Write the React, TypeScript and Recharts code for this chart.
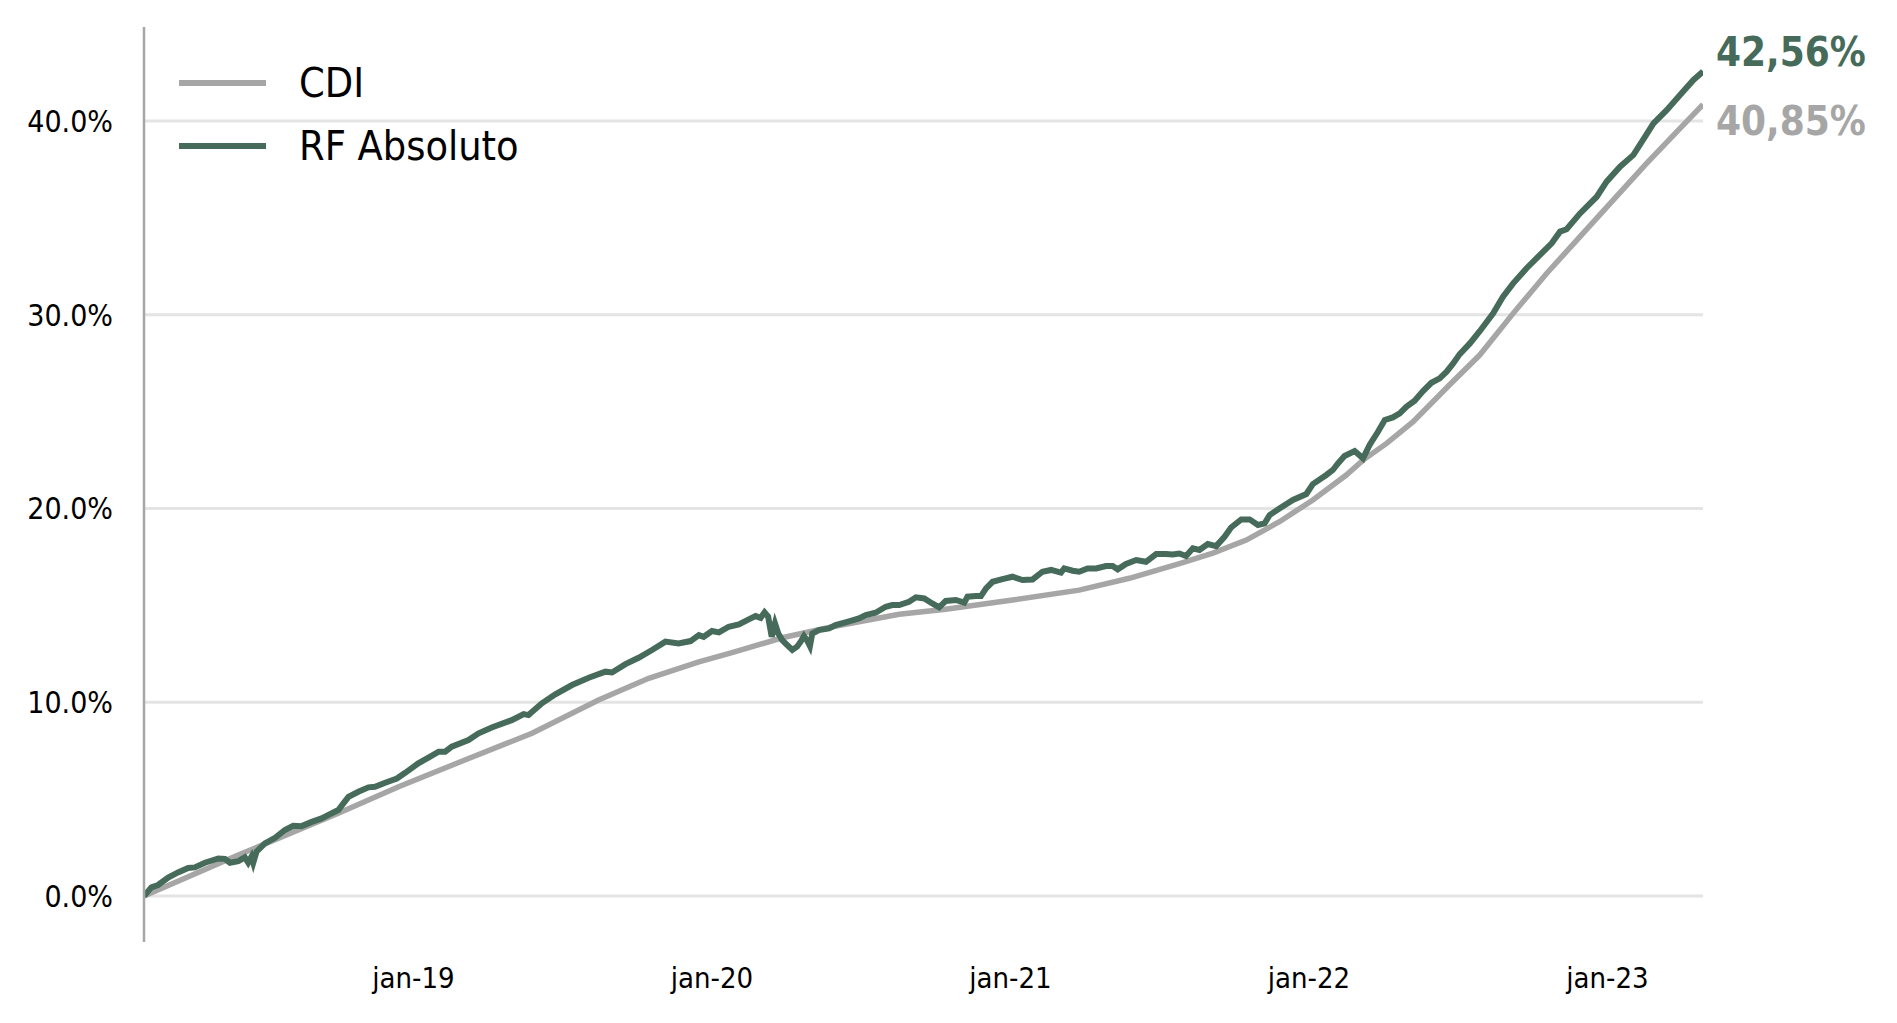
import React from "react";
import { LineChart, Line, XAxis, YAxis, CartesianGrid } from "recharts";

// Dates as fractional years
const rfDates = [
  2018.097, 2018.122, 2018.144, 2018.178, 2018.211, 2018.245, 2018.267, 2018.301, 2018.346, 2018.368,
  2018.385, 2018.413, 2018.435, 2018.446, 2018.457, 2018.463, 2018.474, 2018.502, 2018.536, 2018.569,
  2018.597, 2018.625, 2018.659, 2018.692, 2018.720, 2018.748, 2018.765, 2018.782, 2018.815, 2018.849,
  2018.871, 2018.905, 2018.944, 2018.972, 2019.016, 2019.050, 2019.084, 2019.106, 2019.128, 2019.184,
  2019.218, 2019.262, 2019.329, 2019.369, 2019.385, 2019.430, 2019.475, 2019.531, 2019.587, 2019.643,
  2019.665, 2019.710, 2019.754, 2019.799, 2019.844, 2019.888, 2019.928, 2019.956, 2019.972, 2020.000,
  2020.023, 2020.056, 2020.090, 2020.123, 2020.146, 2020.163, 2020.176, 2020.188, 2020.200, 2020.211,
  2020.222, 2020.235, 2020.252, 2020.269, 2020.285, 2020.297, 2020.308, 2020.319, 2020.328, 2020.336,
  2020.358, 2020.392, 2020.414, 2020.459, 2020.492, 2020.515, 2020.548, 2020.582, 2020.604, 2020.627,
  2020.660, 2020.683, 2020.711, 2020.738, 2020.761, 2020.783, 2020.817, 2020.845, 2020.856, 2020.884,
  2020.901, 2020.918, 2020.940, 2020.973, 2021.007, 2021.040, 2021.074, 2021.107, 2021.136, 2021.169,
  2021.180, 2021.208, 2021.230, 2021.258, 2021.287, 2021.320, 2021.342, 2021.359, 2021.387, 2021.421,
  2021.454, 2021.488, 2021.521, 2021.543, 2021.566, 2021.588, 2021.611, 2021.633, 2021.661, 2021.689,
  2021.717, 2021.739, 2021.773, 2021.801, 2021.829, 2021.851, 2021.868, 2021.901, 2021.946, 2021.991,
  2022.013, 2022.058, 2022.080, 2022.097, 2022.119, 2022.153, 2022.181, 2022.203, 2022.231, 2022.254,
  2022.281, 2022.304, 2022.326, 2022.354, 2022.382, 2022.410, 2022.438, 2022.461, 2022.483, 2022.505,
  2022.539, 2022.572, 2022.617, 2022.650, 2022.684, 2022.729, 2022.768, 2022.813, 2022.841, 2022.863,
  2022.908, 2022.964, 2022.997, 2023.042, 2023.087, 2023.126, 2023.154, 2023.199, 2023.243, 2023.288,
  2023.320,
];

const rfValues = [
  0.0, 0.45, 0.57, 0.96, 1.22, 1.45, 1.48, 1.72, 1.94, 1.92,
  1.72, 1.8, 2.0, 1.73, 2.03, 1.72, 2.29, 2.72, 3.01, 3.41,
  3.63, 3.61, 3.83, 4.01, 4.23, 4.44, 4.78, 5.12, 5.38, 5.61,
  5.64, 5.85, 6.07, 6.36, 6.85, 7.15, 7.45, 7.45, 7.71, 8.05,
  8.4, 8.7, 9.08, 9.39, 9.34, 9.95, 10.41, 10.89, 11.27, 11.58,
  11.54, 11.97, 12.3, 12.7, 13.13, 13.04, 13.16, 13.47, 13.38, 13.68,
  13.61, 13.9, 14.02, 14.28, 14.45, 14.36, 14.64, 14.42, 13.38, 14.07,
  13.55, 13.21, 12.95, 12.7, 12.87, 13.13, 13.42, 13.18, 12.9, 13.55,
  13.73, 13.81, 13.99, 14.18, 14.33, 14.5, 14.62, 14.93, 15.02, 15.02,
  15.19, 15.42, 15.36, 15.1, 14.9, 15.23, 15.28, 15.14, 15.45, 15.48,
  15.48, 15.88, 16.22, 16.36, 16.48, 16.31, 16.34, 16.74, 16.83, 16.69,
  16.91, 16.79, 16.74, 16.91, 16.91, 17.03, 17.03, 16.86, 17.14, 17.34,
  17.25, 17.65, 17.65, 17.63, 17.68, 17.55, 17.95, 17.86, 18.17, 18.06,
  18.54, 19.02, 19.44, 19.44, 19.15, 19.23, 19.66, 20.0, 20.44, 20.75,
  21.26, 21.73, 21.99, 22.33, 22.71, 22.97, 22.59, 23.28, 23.96, 24.57,
  24.7, 24.91, 25.25, 25.56, 26.06, 26.49, 26.72, 27.06, 27.49, 27.97,
  28.52, 29.15, 30.07, 30.93, 31.62, 32.4, 33.0, 33.69, 34.29, 34.41,
  35.23, 36.09, 36.87, 37.64, 38.25, 39.19, 39.88, 40.57, 41.34, 42.12,
  42.56,
];

const cdiDates = [
  2018.097, 2018.413, 2018.748, 2018.950, 2019.172, 2019.397, 2019.620, 2019.788, 2019.956, 2020.067,
  2020.235, 2020.403, 2020.627, 2020.783, 2021.007, 2021.230, 2021.398, 2021.566, 2021.678, 2021.790,
  2021.901, 2022.013, 2022.125, 2022.181, 2022.260, 2022.349, 2022.472, 2022.572, 2022.684, 2022.796,
  2022.908, 2023.019, 2023.131, 2023.243, 2023.320,
];

const cdiValues = [
  0.0, 2.12, 4.27, 5.64, 7.02, 8.4, 10.12, 11.24, 12.09, 12.56,
  13.33, 13.9, 14.54, 14.8, 15.28, 15.79, 16.4, 17.16, 17.7, 18.37,
  19.32, 20.44, 21.73, 22.5, 23.36, 24.48, 26.4, 27.92, 30.07, 32.13,
  34.03, 35.92, 37.81, 39.62, 40.85,
];

const xTicks = [2019, 2020, 2021, 2022, 2023];
const yTicks = [0, 10, 20, 30, 40];

const series = [
  { key: "cdi", name: "CDI", color: "#a6a6a6", width: 5.5, labelDy: 16 },
  { key: "rf", name: "RF Absoluto", color: "#476b5b", width: 6, labelDy: -19 },
];

// build merged table
const rowMap = new Map<number, any>();
rfDates.forEach((d, i) => {
  const r = rowMap.get(d) || { x: d };
  r.rf = rfValues[i];
  rowMap.set(d, r);
});
cdiDates.forEach((d, i) => {
  const r = rowMap.get(d) || { x: d };
  r.cdi = cdiValues[i];
  rowMap.set(d, r);
});
const table = Array.from(rowMap.values()).sort((a, b) => a.x - b.x);
const lastIndex = table.length - 1;

const FONT = "'DejaVu Sans', sans-serif";
const COND = "'DejaVu Sans Condensed', 'DejaVu Sans', sans-serif";

const XTick = (props: any) => {
  const { x, y, payload } = props;
  return (
    <text x={x} y={y} dy="0.71em" textAnchor="middle" fill="#000" fontFamily={COND} fontSize={29}>
      {"jan-" + String(payload.value).slice(2)}
    </text>
  );
};

const YTick = (props: any) => {
  const { x, y, payload } = props;
  return (
    <text x={x} y={y} dy="0.36em" textAnchor="end" fill="#000" fontFamily={COND} fontSize={30}>
      {Number(payload.value).toFixed(1) + "%"}
    </text>
  );
};

const makeEndLabel = (color: string, dy: number) => (props: any) => {
  const { x, y, index, value } = props;
  if (index !== lastIndex || value == null) return null;
  return (
    <text
      x={x + 13}
      y={y + dy}
      fill={color}
      fontFamily={FONT}
      fontWeight="bold"
      fontSize={40}
      dominantBaseline="central"
      textAnchor="start"
      style={{ fontStretch: "condensed" }}
    >
      {Number(value).toFixed(2).replace(".", ",") + "%"}
    </text>
  );
};

export default function App() {
  return (
    <div style={{ position: "relative", width: 1880, height: 1000, background: "#fff" }}>
      <LineChart
        width={1880}
        height={1000}
        data={table}
        margin={{ top: 19, right: 185, bottom: 6, left: 0 }}
      >
        <CartesianGrid
          vertical={false}
          horizontalValues={yTicks}
          stroke="#e4e4e4"
          strokeWidth={3}
        />
        <XAxis
          dataKey="x"
          type="number"
          domain={[2018.097, 2023.32]}
          ticks={xTicks}
          axisLine={false}
          tickLine={false}
          tickMargin={19}
          height={60}
          tick={<XTick />}
          allowDataOverflow
        />
        <YAxis
          type="number"
          domain={[-2.37, 44.85]}
          ticks={yTicks}
          axisLine={{ stroke: "#a6a6a6", strokeWidth: 2.5 }}
          tickLine={false}
          tickMargin={25}
          width={136}
          tick={<YTick />}
          allowDataOverflow
        />
        {series.map((s) => (
          <Line
            key={s.key}
            type="linear"
            dataKey={s.key}
            name={s.name}
            stroke={s.color}
            strokeWidth={s.width}
            dot={false}
            activeDot={false}
            connectNulls
            isAnimationActive={false}
            label={makeEndLabel(s.color, s.labelDy)}
          />
        ))}
      </LineChart>
      <div style={{ position: "absolute", left: 171, top: 43, fontFamily: COND }}>
        {series.map((s) => (
          <div key={s.key} style={{ display: "flex", alignItems: "center", height: 63 }}>
            <div style={{ width: 87, height: 6, background: s.color }} />
            <div style={{ marginLeft: 33, fontSize: 41, color: "#000", lineHeight: "52px" }}>{s.name}</div>
          </div>
        ))}
      </div>
    </div>
  );
}
